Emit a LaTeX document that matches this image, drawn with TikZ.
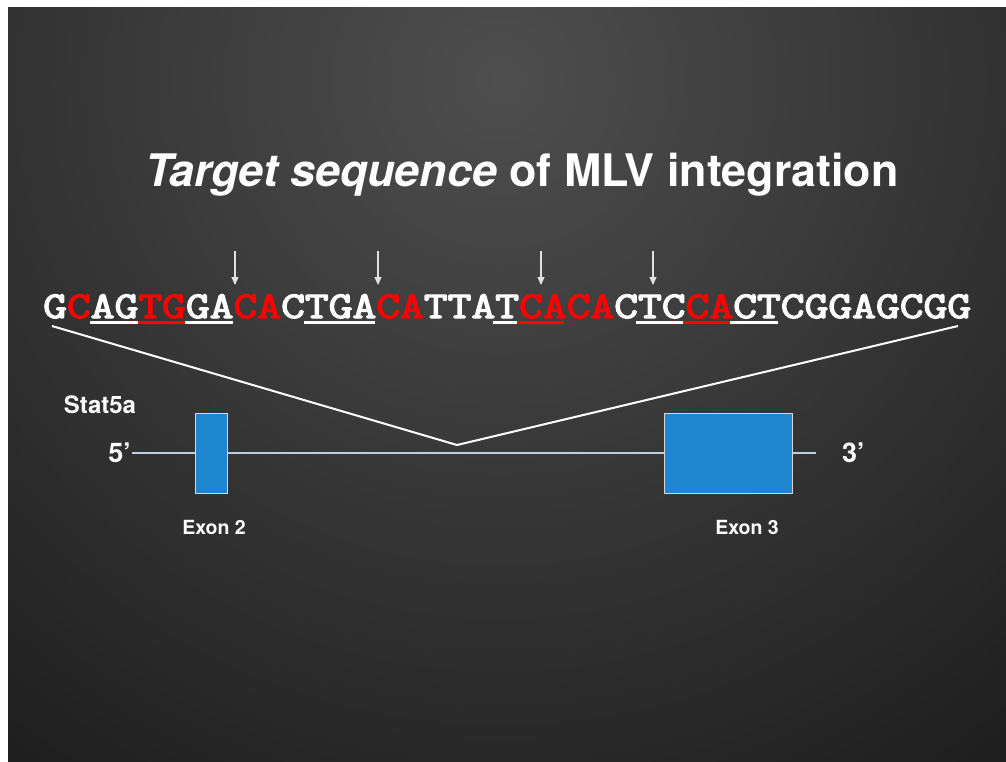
\documentclass[tikz,border=0pt]{standalone}
\usepackage{graphicx}
\usepackage{fontspec}
\setmainfont{TeX Gyre Heros}
\newfontfamily\seqfont[BoldFont={Latin Modern Mono},BoldFeatures={FakeBold=3.2}]{Latin Modern Mono}
\usetikzlibrary{arrows.meta}
\definecolor{seqred}{RGB}{255,0,0}
\definecolor{exonblue}{RGB}{31,133,207}
\definecolor{geneline}{RGB}{190,205,225}
\definecolor{bgin}{RGB}{78,78,78}
\definecolor{bgout}{RGB}{27,27,27}
\newcommand{\Rd}[1]{\textcolor{seqred}{#1}}
\begin{document}
\begin{tikzpicture}[x=1pt,y=-1pt,
  lbl/.style={text=white,inner sep=0pt,font=\bfseries},
  cutarrow/.style={draw={rgb,255:red,225;green,225;blue,225},line width=1.1pt,-{Triangle[width=7pt,length=8pt]}},
  uline/.style={line width=2.6pt},
  exonbox/.style={fill=exonblue,draw={rgb,255:red,215;green,215;blue,215},line width=0.8pt},
  zoomline/.style={draw=white,line width=2pt}]
\useasboundingbox (0,0) rectangle (1006,761);
\fill[white] (0,0) rectangle (1006,761);
\begin{scope}
\clip (8,7) rectangle (1006,761);
\shade[inner color=bgin,outer color=bgout] (-400,-820) rectangle (1400,980);
\end{scope}

% title
\node[lbl,anchor=base] (title) at (522,186) {\fontsize{44.8}{48}\selectfont\textit{Target sequence} of MLV integration};

% sequence
\node[lbl,anchor=base west,font=\seqfont\bfseries] (seq) at (43,318)
  {\scalebox{1}[0.82]{\fontsize{46.2}{48}\selectfont G\Rd{C}AG\Rd{TG}GA\Rd{CA}CTGA\Rd{CA}TTAT\Rd{CACA}CTC\Rd{CA}CTCGGAGCGG}};

% underlines
\draw[uline,white] (90.4,322.5) -- (137.8,322.5);
\draw[uline,seqred] (137.8,322.5) -- (185.2,322.5);
\draw[uline,white] (185.2,322.5) -- (232.6,322.5);
\draw[uline,white] (303.7,322.5) -- (374.8,322.5);
\draw[uline,white] (493.3,322.5) -- (517,322.5);
\draw[uline,seqred] (517,322.5) -- (564.4,322.5);
\draw[uline,white] (635.5,322.5) -- (682.9,322.5);
\draw[uline,seqred] (682.9,322.5) -- (730.3,322.5);
\draw[uline,white] (730.3,322.5) -- (777.7,322.5);

% cut-site arrows
\foreach \i/\x in {1/235,2/378,3/541,4/653}{
  \coordinate (a\i s) at (\x,251);
  \coordinate (a\i e) at (\x,285);
  \draw[cutarrow] (a\i s) -- (a\i e);
}

% zoom lines
\coordinate (zl) at (52,326);
\coordinate (zv) at (457,445);
\coordinate (zr) at (958,326);
\draw[zoomline,line join=miter] (zl) -- (zv) -- (zr);

% gene
\coordinate (g0) at (132,453);
\coordinate (g1) at (816,453);
\draw[geneline,line width=1.2pt] (g0) -- (g1);
\node[exonbox,minimum width=32pt,minimum height=80pt,inner sep=0pt] (ex2) at (211,453) {};
\node[exonbox,minimum width=128pt,minimum height=80pt,inner sep=0pt] (ex3) at (728,453) {};

% labels
\node[lbl,anchor=base] (stat) at (100,413) {\fontsize{24}{26}\selectfont Stat5a};
\node[lbl,anchor=base east] (five) at (131,462) {\fontsize{27}{29}\selectfont 5’};
\node[lbl,anchor=base west] (three) at (842,462) {\fontsize{27}{29}\selectfont 3’};
\node[lbl,anchor=base] (e2) at (214,534) {\fontsize{19.5}{21}\selectfont Exon 2};
\node[lbl,anchor=base] (e3) at (747,534) {\fontsize{19.5}{21}\selectfont Exon 3};
\end{tikzpicture}
\end{document}
